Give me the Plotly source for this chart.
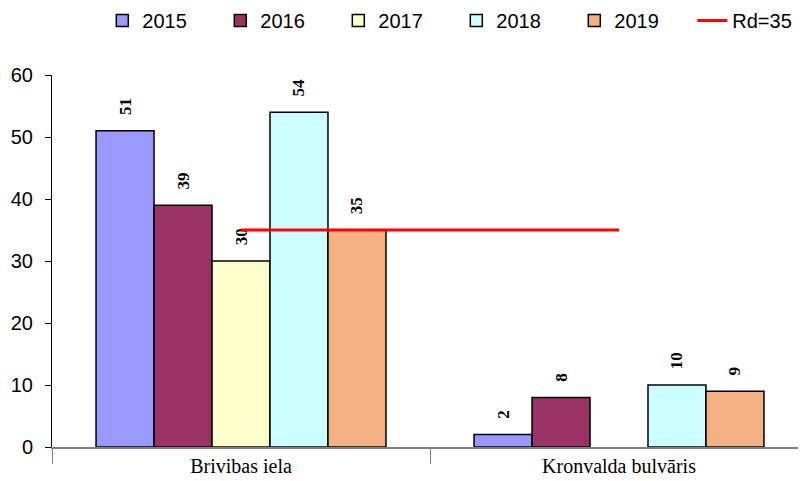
import plotly.graph_objects as go

categories = ["Brivibas iela", "Kronvalda bulvāris"]
years = ["2015", "2016", "2017", "2018", "2019"]
values = {
    "2015": [51, 2],
    "2016": [39, 8],
    "2017": [30, None],
    "2018": [54, 10],
    "2019": [35, 9],
}
colors = {
    "2015": "#9999FF",
    "2016": "#993366",
    "2017": "#FFFFCC",
    "2018": "#CCFFFF",
    "2019": "#F4B183",
}
limit_name = "Rd=35"
limit_values = [35, 35]

PAD = "\u00a0\u00a0\u00a0"

fig = go.Figure()
for y in years:
    vals = values[y]
    fig.add_trace(go.Bar(
        name=y, x=categories, y=vals,
        marker=dict(color=colors[y], line=dict(color="black", width=1.5)),
        text=[("" if v is None else PAD + str(v)) for v in vals],
        textposition="outside", textangle=-90,
        textfont=dict(family="Liberation Serif", size=17, color="black", weight="bold"),
        cliponaxis=False,
    ))

fig.add_trace(go.Scatter(
    name=limit_name, x=categories, y=limit_values, mode="lines",
    line=dict(color="#FF0000", width=3),
))

# page body has an 8px offset, so the figure is shifted back by that amount
fig.update_layout(
    width=806, height=481,
    margin=dict(l=44, r=6, t=67, b=42, autoexpand=False),
    paper_bgcolor="white", plot_bgcolor="white",
    barmode="group", bargap=0.233, bargroupgap=0,
    showlegend=True,
    legend=dict(orientation="h", x=0.117, xref="container", xanchor="left",
                y=1.199, yref="paper", yanchor="top",
                font=dict(family="Liberation Sans", size=20, color="black"),
                traceorder="normal", entrywidth=73, entrywidthmode="pixels",
                itemwidth=30),
    xaxis=dict(type="category", showline=True, linecolor="#808080", linewidth=1.5,
               tickson="boundaries", ticks="outside", ticklen=15, tickcolor="#808080",
               tickfont=dict(family="Liberation Serif", size=20, color="black"),
               showgrid=False, automargin=False),
    yaxis=dict(range=[0, 60], dtick=10, showline=True, linecolor="black", linewidth=1,
               ticks="outside", ticklen=6, tickcolor="black", showgrid=False,
               zeroline=False, automargin=False, ticklabelstandoff=8,
               tickfont=dict(family="Liberation Sans", size=20, color="black")),
)

fig.write_html("out.html")
